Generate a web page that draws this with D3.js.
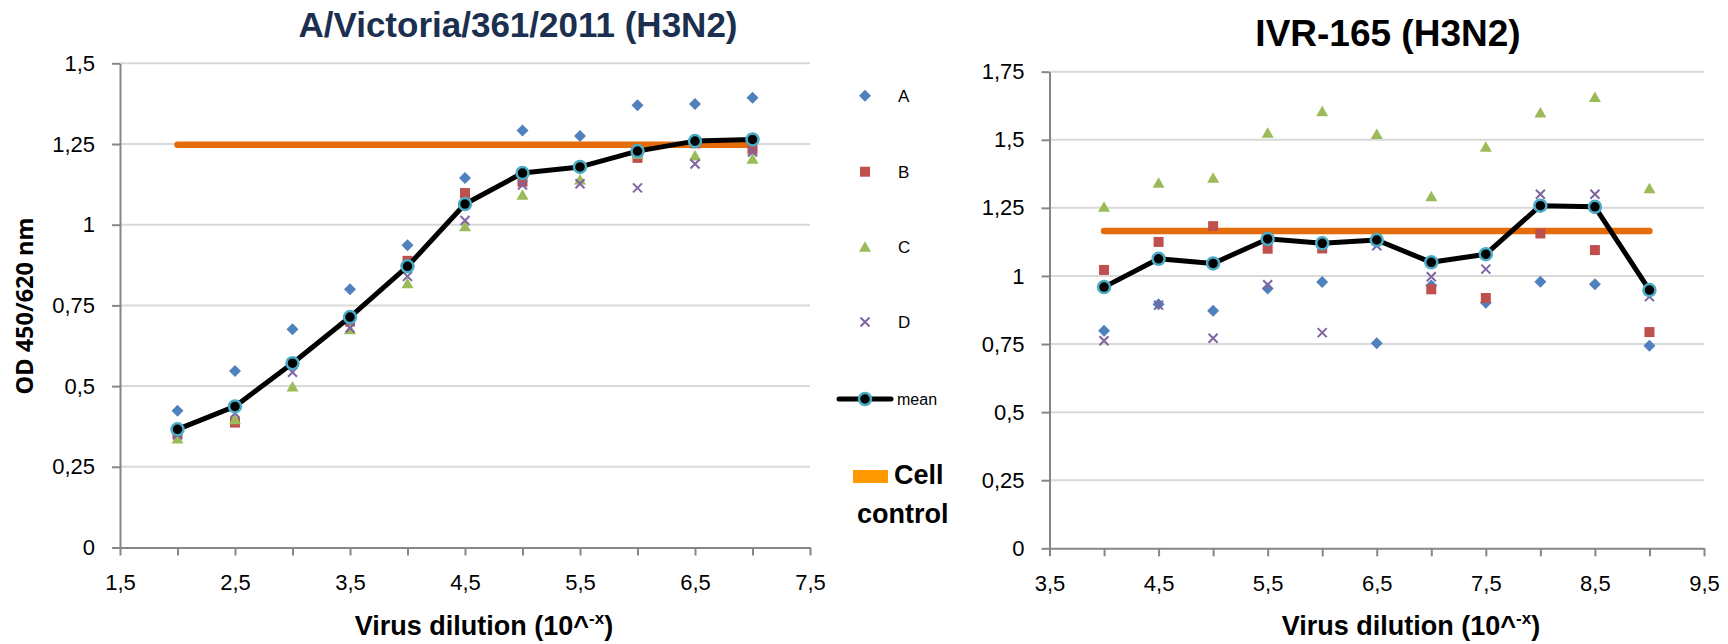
<!DOCTYPE html>
<html>
<head>
<meta charset="utf-8">
<script src="https://cdn.jsdelivr.net/npm/d3@7"></script>
<style>
  body { margin: 0; background: #fff; }
  svg { display: block; font-family: "Liberation Sans", Arial, sans-serif; }
</style>
</head>
<body>
<svg width="1728" height="644"></svg>
<script>
// A/Victoria/361/2011 (H3N2)
var leftDilution = [2, 2.5, 3, 3.5, 4, 4.5, 5, 5.5, 6, 6.5, 7];
var leftA = [0.424, 0.547, 0.676, 0.800, 0.936, 1.145, 1.292, 1.275, 1.370, 1.374, 1.393];
var leftB = [0.352, 0.387, 0.569, 0.700, 0.888, 1.098, 1.133, 1.179, 1.207, 1.252, 1.233];
var leftC = [0.338, 0.397, 0.499, 0.676, 0.819, 0.995, 1.093, 1.140, 1.219, 1.214, 1.204];
var leftD = [0.349, 0.416, 0.543, 0.680, 0.840, 1.013, 1.123, 1.127, 1.114, 1.188, 1.225];
var leftMean = [0.366, 0.437, 0.571, 0.714, 0.871, 1.064, 1.160, 1.179, 1.228, 1.259, 1.264];
var leftCellControl = 1.248;
var leftYTicks = [0, 0.25, 0.5, 0.75, 1, 1.25, 1.5];
var leftXTicks = [1.5, 2, 2.5, 3, 3.5, 4, 4.5, 5, 5.5, 6, 6.5, 7, 7.5];
var leftXLabels = [1.5, 2.5, 3.5, 4.5, 5.5, 6.5, 7.5];

// IVR-165 (H3N2)
var rightDilution = [4, 4.5, 5, 5.5, 6, 6.5, 7, 7.5, 8, 8.5, 9];
var rightA = [0.799, 0.896, 0.872, 0.954, 0.978, 0.753, 0.965, 0.902, 0.979, 0.970, 0.744];
var rightB = [1.022, 1.125, 1.183, 1.100, 1.101, 1.134, 0.951, 0.919, 1.156, 1.095, 0.794];
var rightC = [1.254, 1.342, 1.361, 1.526, 1.605, 1.521, 1.293, 1.474, 1.600, 1.657, 1.322];
var rightD = [0.762, 0.893, 0.771, 0.968, 0.792, 1.111, 0.997, 1.025, 1.300, 1.300, 0.924];
var rightMean = [0.959, 1.063, 1.046, 1.136, 1.120, 1.132, 1.050, 1.080, 1.258, 1.254, 0.948];
var rightCellControl = 1.165;
var rightYTicks = [0, 0.25, 0.5, 0.75, 1, 1.25, 1.5, 1.75];
var rightXTicks = [3.5, 4, 4.5, 5, 5.5, 6, 6.5, 7, 7.5, 8, 8.5, 9, 9.5];
var rightXLabels = [3.5, 4.5, 5.5, 6.5, 7.5, 8.5, 9.5];

var seriesNames = ["A", "B", "C", "D"];
var seriesColors = { A: "#4F81BD", B: "#C0504D", C: "#9BBB59", D: "#8064A2" };

function comma(d) {
    return String(d).replace(".", ",");
}

function markerPath(name) {
    if (name == "A") return "M0,-6L6,0L0,6L-6,0Z";
    if (name == "B") return "M-5,-5H5V5H-5Z";
    if (name == "C") return "M0,-5.5L6,5H-6Z";
    return "M-4.5,-4.5L4.5,4.5M4.5,-4.5L-4.5,4.5";
}

var svg = d3.select("svg");

function drawChart(cfg) {
    var x = d3.scaleLinear().domain(cfg.xDomain).range(cfg.xRange);
    var y = d3.scaleLinear().domain(cfg.yDomain).range(cfg.yRange);
    var g = svg.append("g");

    // gridlines
    g.append("g")
        .selectAll("line")
        .data(cfg.yTicks.filter(function(d){ return d > 0; }))
        .enter()
        .append("line")
        .attr("x1", cfg.xRange[0])
        .attr("x2", cfg.xRange[1])
        .attr("y1", function(d){ return y(d); })
        .attr("y2", function(d){ return y(d); })
        .attr("stroke", "#D9D9D9")
        .attr("stroke-width", 2);

    var yAxis = d3.axisLeft(y)
        .tickValues(cfg.yTicks)
        .tickSize(8)
        .tickSizeOuter(0)
        .tickPadding(17)
        .tickFormat(comma);

    var xAxis = d3.axisBottom(x)
        .tickValues(cfg.xTicks)
        .tickSize(8)
        .tickSizeOuter(0)
        .tickPadding(19)
        .tickFormat(function(d){
            return cfg.xLabels.indexOf(d) >= 0 ? comma(d) : "";
        });

    var ya = g.append("g")
        .attr("transform", "translate(" + cfg.xRange[0] + ",0)")
        .call(yAxis);
    var xa = g.append("g")
        .attr("transform", "translate(0," + cfg.yRange[0] + ")")
        .call(xAxis);

    [ya, xa].forEach(function(a){
        a.select(".domain").attr("stroke", "#868686").attr("stroke-width", 2);
        a.selectAll(".tick line").attr("stroke", "#868686").attr("stroke-width", 2);
        a.selectAll("text")
            .attr("fill", "#000")
            .style("font-size", "22px")
            .style("font-family", "'Liberation Sans', Arial, sans-serif");
    });

    // cell control line
    g.append("line")
        .attr("x1", x(cfg.dilution[0]))
        .attr("x2", x(cfg.dilution[cfg.dilution.length - 1]))
        .attr("y1", y(cfg.cellControl))
        .attr("y2", y(cfg.cellControl))
        .attr("stroke", "#E46C0A")
        .attr("stroke-width", 6.5)
        .attr("stroke-linecap", "round");

    // replicate markers
    seriesNames.forEach(function(name){
        g.append("g")
            .selectAll("path")
            .data(cfg.series[name])
            .enter()
            .append("path")
            .attr("transform", function(d, i){
                return "translate(" + x(cfg.dilution[i]) + "," + y(d) + ")";
            })
            .attr("d", markerPath(name))
            .attr("fill", name == "D" ? "none" : seriesColors[name])
            .attr("stroke", name == "D" ? seriesColors[name] : "none")
            .attr("stroke-width", 2);
    });

    // mean
    var line = d3.line()
        .x(function(d, i){ return x(cfg.dilution[i]); })
        .y(function(d){ return y(d); });

    g.append("path")
        .datum(cfg.mean)
        .attr("fill", "none")
        .attr("stroke", "#000")
        .attr("stroke-width", 5)
        .attr("stroke-linejoin", "round")
        .attr("d", line);

    g.selectAll(".dot")
        .data(cfg.mean)
        .enter()
        .append("circle")
        .attr("cx", function(d, i){ return x(cfg.dilution[i]); })
        .attr("cy", function(d){ return y(d); })
        .attr("r", 6)
        .attr("fill", "#000")
        .attr("stroke", "#4BACC6")
        .attr("stroke-width", 2.5);

    // title
    g.append("text")
        .attr("x", cfg.titleX)
        .attr("y", cfg.titleY)
        .attr("text-anchor", "middle")
        .style("font-size", cfg.titleSize)
        .style("font-weight", "bold")
        .attr("fill", cfg.titleColor)
        .text(cfg.title);

    // x label
    var xl = g.append("text")
        .attr("x", cfg.xLabelX)
        .attr("y", 635)
        .attr("text-anchor", "middle")
        .style("font-size", "27px")
        .style("font-weight", "bold")
        .text("Virus dilution (10^");
    xl.append("tspan")
        .attr("dy", -11)
        .style("font-size", "17px")
        .text("-x");
    xl.append("tspan")
        .attr("dy", 11)
        .text(")");
}

drawChart({
    xDomain: [1.5, 7.5], xRange: [120, 810],
    yDomain: [0, 1.5], yRange: [547.5, 63.3],
    yTicks: leftYTicks, xTicks: leftXTicks, xLabels: leftXLabels,
    dilution: leftDilution,
    series: { A: leftA, B: leftB, C: leftC, D: leftD },
    mean: leftMean, cellControl: leftCellControl,
    title: "A/Victoria/361/2011 (H3N2)", titleX: 518, titleY: 37, titleSize: "35px", titleColor: "#1B2F4E",
    xLabelX: 484
});

drawChart({
    xDomain: [3.5, 9.5], xRange: [1049.5, 1704],
    yDomain: [0, 1.75], yRange: [548.3, 71.7],
    yTicks: rightYTicks, xTicks: rightXTicks, xLabels: rightXLabels,
    dilution: rightDilution,
    series: { A: rightA, B: rightB, C: rightC, D: rightD },
    mean: rightMean, cellControl: rightCellControl,
    title: "IVR-165 (H3N2)", titleX: 1388, titleY: 46, titleSize: "37px", titleColor: "#000",
    xLabelX: 1411
});

// y axis label
svg.append("text")
    .attr("transform", "translate(33,306) rotate(-90)")
    .attr("text-anchor", "middle")
    .style("font-family", "'Open Sans', 'DejaVu Sans', sans-serif")
    .style("font-size", "23.5px")
    .style("font-weight", "bold")
    .text("OD 450/620 nm");

// legend
var legend = svg.append("g");
var legendRows = [95.7, 171.7, 246.7, 322];

seriesNames.forEach(function(name, i){
    legend.append("path")
        .attr("transform", "translate(865," + legendRows[i] + ")")
        .attr("d", markerPath(name))
        .attr("fill", name == "D" ? "none" : seriesColors[name])
        .attr("stroke", name == "D" ? seriesColors[name] : "none")
        .attr("stroke-width", 2);
    legend.append("text")
        .attr("x", 898)
        .attr("y", legendRows[i] + 6)
        .style("font-size", "17px")
        .text(name);
});

legend.append("line")
    .attr("x1", 839).attr("x2", 891)
    .attr("y1", 399).attr("y2", 399)
    .attr("stroke", "#000")
    .attr("stroke-width", 5)
    .attr("stroke-linecap", "round");
legend.append("circle")
    .attr("cx", 865).attr("cy", 399).attr("r", 6)
    .attr("fill", "#000")
    .attr("stroke", "#4BACC6")
    .attr("stroke-width", 2.5);
legend.append("text")
    .attr("x", 897).attr("y", 405)
    .style("font-size", "16px")
    .text("mean");

legend.append("rect")
    .attr("x", 853).attr("y", 470)
    .attr("width", 35).attr("height", 13)
    .attr("fill", "#FF9900");
legend.append("text")
    .attr("x", 894).attr("y", 484)
    .style("font-size", "27px")
    .style("font-weight", "bold")
    .text("Cell");
legend.append("text")
    .attr("x", 857).attr("y", 523)
    .style("font-size", "27px")
    .style("font-weight", "bold")
    .text("control");
</script>
</body>
</html>
